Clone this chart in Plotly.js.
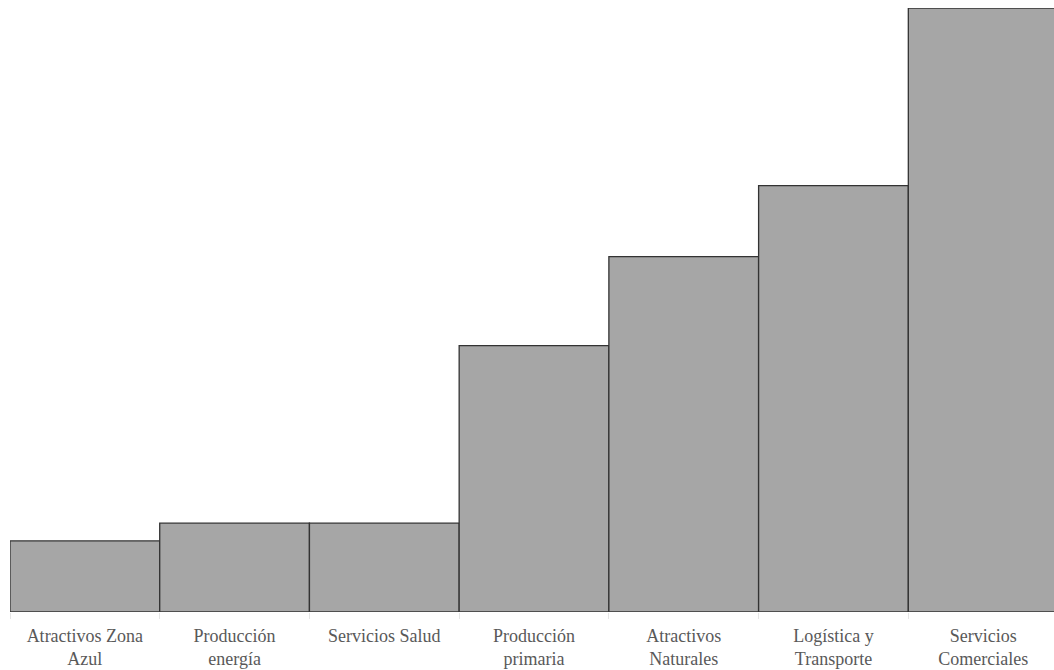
<!DOCTYPE html>
<html>
<head>
<meta charset="utf-8">
<script src="https://cdn.plot.ly/plotly-3.0.1.min.js"></script>
<style>html,body{margin:0;padding:0;background:#fff;}#chart{width:1054px;height:670px;}</style>
</head>
<body>
<div id="chart"></div>
<script>
var categories = ["Atractivos Zona<br>Azul", "Producción<br>energía", "Servicios Salud", "Producción<br>primaria", "Atractivos<br>Naturales", "Logística y<br>Transporte", "Servicios<br>Comerciales"];
var values = [4, 5, 5, 15, 20, 24, 34];

var trace = {
  type: 'bar',
  x: categories,
  y: values,
  width: 1,
  marker: {color: '#a6a6a6', line: {color: '#333333', width: 1.3}},
  hoverinfo: 'skip'
};

var layout = {
  width: 1054, height: 670,
  margin: {l: 10, r: 0, t: 8, b: 58},
  paper_bgcolor: '#ffffff', plot_bgcolor: '#ffffff',
  showlegend: false,
  bargap: 0,
  xaxis: {
    type: 'category',
    range: [-0.5, 6.473],
    showgrid: false, zeroline: false, showline: false,
    ticks: 'outside', tickson: 'boundaries', ticklen: 6, tickcolor: '#e6e6e6',
    tickfont: {family: 'Liberation Serif', size: 18, color: '#595959'},
    ticklabelstandoff: 11,
    fixedrange: true
  },
  yaxis: {
    range: [0, 34],
    visible: false,
    showgrid: false, zeroline: false,
    fixedrange: true
  }
};

Plotly.newPlot('chart', [trace], layout, {displayModeBar: false, staticPlot: true});
</script>
</body>
</html>
